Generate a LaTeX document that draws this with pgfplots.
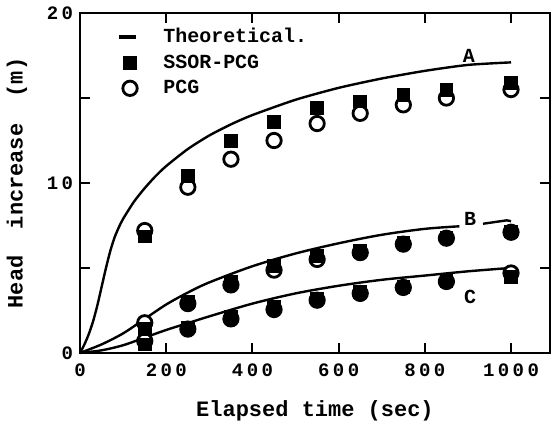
\documentclass[border=0pt]{standalone}
\usepackage{fontspec}
\setmainfont{Liberation Mono}
\newfontfamily\tickfont[LetterSpace=18]{Liberation Mono}
\usepackage{pgfplots}
\pgfplotsset{compat=1.18}
\begin{document}
\begin{tikzpicture}
\begin{axis}[
    scale only axis,
    width=235pt, height=170pt,
    xmin=0, xmax=1090, ymin=0, ymax=20,
    xtick={0,200,400,600,800,1000},
    ytick={0,5,10,15,20},
    yticklabels={0,,10,,20},
    tick align=inside,
    major tick length=5pt,
    tick style={line width=1pt, black},
    axis line style={line width=1.2pt},
    /pgf/number format/assume math mode=true,
    /pgf/number format/1000 sep={},
    ticklabel style={font=\tickfont\fontsize{9.5}{11}\selectfont\bfseries},
    xticklabel style={yshift=-2pt},
    xlabel={Elapsed time (sec)},
    ylabel={Head\ \ increase\ \ (m)},
    label style={font=\fontsize{11}{12}\selectfont\bfseries},
    xlabel style={yshift=-5pt},
    ylabel style={yshift=3pt},
    legend style={at={(0.065,0.98)}, anchor=north west, draw=none, fill=none,
        font=\fontsize{10}{11}\selectfont\bfseries, row sep=0.5pt,
        /tikz/every odd column/.append style={column sep=11pt}},
    legend cell align=left,
    clip=false,
]
% theoretical curves
\addplot[black, line width=1.2pt, smooth, tension=0.4, forget plot] coordinates {
    (0,0) (10,0.5) (20,1.1) (30,1.85) (40,2.8) (50,3.9) (60,5.0) (70,6.0)
    (80,6.8) (90,7.4) (100,7.9) (125,8.9) (150,9.7)
    (175,10.4) (200,11.0) (250,12.0) (300,12.8) (350,13.45) (400,14.0)
    (500,14.9) (600,15.6) (700,16.15) (800,16.6) (900,16.95) (1000,17.1)
};
\addplot[black, line width=1.2pt, smooth, tension=0.5, forget plot] coordinates {
    (0,0) (50,0.5) (100,1.15) (150,2.0) (200,2.85) (250,3.55) (300,4.15)
    (400,5.1) (500,5.85) (600,6.45) (700,6.95) (800,7.3) (880,7.45)
};
\addplot[black, line width=1.2pt, forget plot] coordinates {
    (935,7.6) (990,7.8) (1000,7.75)
};
\addplot[black, line width=1.2pt, smooth, tension=0.5, forget plot] coordinates {
    (0,0) (50,0.15) (100,0.45) (150,0.9) (200,1.35) (250,1.75) (300,2.15)
    (400,2.9) (500,3.5) (600,3.95) (700,4.3) (800,4.55) (900,4.8) (1000,5.0)
};
% legend entry for the theoretical curves
\addlegendimage{black, line width=1.5pt, legend image code/.code={\draw[line width=1.6pt] (0.1cm,0cm) -- (0.4cm,0cm);}}
\addlegendentry{Theoretical.}
% PCG (open circles)
\addplot[only marks, mark=*, mark size=3.6pt, mark options={fill=white, draw=black, line width=1.4pt}, forget plot] coordinates {
    (150,7.2) (250,9.75) (350,11.4) (450,12.5) (550,13.5) (650,14.1) (750,14.6) (850,15.0) (1000,15.5)
    (150,1.77) (250,2.9) (350,4.0) (450,4.87) (550,5.5) (650,5.9) (750,6.4) (850,6.75) (1000,7.1)
    (150,0.7) (250,1.4) (350,2.0) (450,2.55) (550,3.1) (650,3.5) (750,3.85) (850,4.2) (1000,4.7)
};
% SSOR-PCG (filled squares)
\addplot[only marks, mark=square*, mark size=3.2pt, mark options={fill=black, draw=black}] coordinates {
    (150,6.85) (250,10.4) (350,12.5) (450,13.6) (550,14.4) (650,14.8) (750,15.2) (850,15.5) (1000,15.9)
    (150,1.4) (250,3.0) (350,4.2) (450,5.1) (550,5.7) (650,6.0) (750,6.45) (850,6.8) (1000,7.15)
    (150,0.5) (250,1.5) (350,2.1) (450,2.7) (550,3.2) (650,3.6) (750,3.9) (850,4.25) (1000,4.45)
};
\addlegendentry{SSOR-PCG}
% where both methods coincide the markers merge into solid dots
\addplot[only marks, mark=*, mark size=3.4pt, mark options={fill=black, draw=black}, forget plot] coordinates {
    (250,2.85) (350,3.95) (650,5.85) (750,6.4) (850,6.75) (1000,7.1)
    (250,1.35) (350,1.95) (450,2.5) (550,3.05) (650,3.45) (750,3.85) (850,4.2)
};
\addlegendimage{only marks, mark=*, mark size=3.6pt, mark options={fill=white, draw=black, line width=1.4pt}}
\addlegendentry{PCG}
% curve labels
\node[font=\fontsize{10}{11}\selectfont\bfseries] at (axis cs:902,17.5) {A};
\node[font=\fontsize{10}{11}\selectfont\bfseries] at (axis cs:905,7.9) {B};
\node[font=\fontsize{10}{11}\selectfont\bfseries] at (axis cs:905,3.3) {C};
\end{axis}
\end{tikzpicture}
\end{document}
